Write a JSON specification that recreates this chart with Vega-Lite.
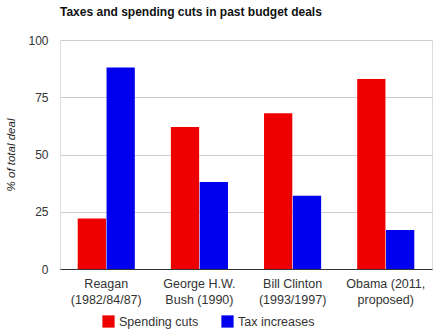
{
  "$schema": "https://vega.github.io/schema/vega-lite/v6.json",
  "autosize": "none",
  "width": 372,
  "height": 229,
  "padding": {"left": 60, "top": 40, "right": 2, "bottom": 66},
  "background": "white",
  "title": {
    "text": "Taxes and spending cuts in past budget deals",
    "anchor": "start",
    "frame": "group",
    "font": "Liberation Sans",
    "fontSize": 12,
    "fontWeight": "bold",
    "color": "#111111",
    "offset": 15
  },
  "data": {
    "values": [
      {"deal": "Reagan|(1982/84/87)", "type": "Spending cuts", "pct": 22},
      {"deal": "Reagan|(1982/84/87)", "type": "Tax increases", "pct": 88},
      {"deal": "George H.W.|Bush (1990)", "type": "Spending cuts", "pct": 62},
      {"deal": "George H.W.|Bush (1990)", "type": "Tax increases", "pct": 38},
      {"deal": "Bill Clinton|(1993/1997)", "type": "Spending cuts", "pct": 68},
      {"deal": "Bill Clinton|(1993/1997)", "type": "Tax increases", "pct": 32},
      {"deal": "Obama (2011,|proposed)", "type": "Spending cuts", "pct": 83},
      {"deal": "Obama (2011,|proposed)", "type": "Tax increases", "pct": 17}
    ]
  },
  "mark": {"type": "bar"},
  "encoding": {
    "x": {
      "field": "deal",
      "type": "nominal",
      "sort": null,
      "scale": {"paddingInner": 0.387, "paddingOuter": 0.19},
      "axis": {
        "title": null,
        "labelAngle": 0,
        "labelExpr": "split(datum.label, '|')",
        "labelFont": "Liberation Sans",
        "labelFontSize": 12.5,
        "labelColor": "#333333",
        "labelLineHeight": 16,
        "labelPadding": 8,
        "ticks": false,
        "domainColor": "#333333",
        "domainWidth": 1
      }
    },
    "xOffset": {"field": "type", "type": "nominal", "scale": {"paddingInner": 0.02}},
    "y": {
      "field": "pct",
      "type": "quantitative",
      "scale": {"domain": [0, 100]},
      "axis": {
        "values": [0, 25, 50, 75, 100],
        "title": "% of total deal",
        "titleFont": "Liberation Sans",
        "titleFontSize": 11.5,
        "titleFontStyle": "italic",
        "titleFontWeight": "normal",
        "titleColor": "#222222",
        "titlePadding": 11,
        "labelFont": "Liberation Sans",
        "labelFontSize": 12,
        "labelColor": "#333333",
        "labelPadding": 12,
        "ticks": false,
        "domain": false,
        "gridColor": "#cccccc"
      }
    },
    "color": {
      "field": "type",
      "type": "nominal",
      "scale": {"domain": ["Spending cuts", "Tax increases"], "range": ["#ee0000", "#0000ee"]},
      "legend": {
        "title": null,
        "orient": "none",
        "legendX": 42,
        "legendY": 275,
        "direction": "horizontal",
        "symbolType": "square",
        "symbolSize": 150,
        "symbolStrokeWidth": 0,
        "labelFont": "Liberation Sans",
        "labelFontSize": 12.5,
        "labelColor": "#333333",
        "columnPadding": 22
      }
    }
  }
}
